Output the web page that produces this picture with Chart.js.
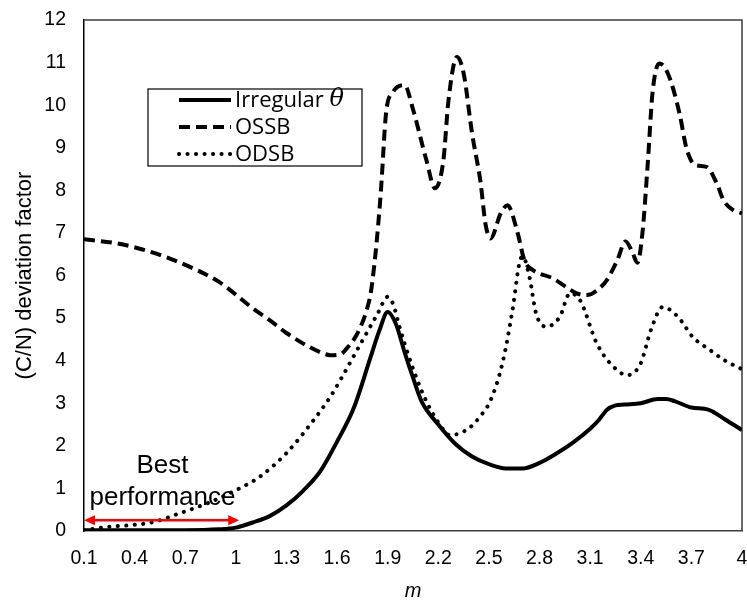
<!DOCTYPE html>
<html>
<head>
<meta charset="utf-8">
<script src="https://cdn.jsdelivr.net/npm/chart.js@4.4.1/dist/chart.umd.min.js"></script>
<style>
  html, body { margin: 0; padding: 0; background: #fff; }
  #wrap { width: 747px; height: 603px; }
</style>
</head>
<body>
<div id="wrap"><canvas id="cn-chart" width="747" height="603"></canvas></div>
<script>
// m axis ticks
const mTicks = [0.1, 0.4, 0.7, 1, 1.3, 1.6, 1.9, 2.2, 2.5, 2.8, 3.1, 3.4, 3.7, 4];

// Irregular theta
const irregularM = [0.1, 0.4, 0.7, 0.9, 1.0, 1.1, 1.2, 1.3, 1.4, 1.5, 1.6, 1.7, 1.8, 1.85, 1.9, 1.95, 2.0, 2.05, 2.1, 2.2, 2.3, 2.4, 2.5, 2.6, 2.7, 2.8, 2.9, 3.0, 3.1, 3.15, 3.2, 3.25, 3.3, 3.4, 3.5, 3.55, 3.6, 3.7, 3.8, 3.9, 4.0];
const irregularCN = [0.02, 0.02, 0.02, 0.04, 0.08, 0.2, 0.35, 0.6, 0.95, 1.4, 2.1, 2.9, 4.1, 4.7, 5.14, 4.85, 4.2, 3.6, 3.05, 2.5, 2.05, 1.75, 1.57, 1.47, 1.47, 1.6, 1.82, 2.08, 2.4, 2.6, 2.85, 2.95, 2.97, 3.0, 3.1, 3.1, 3.05, 2.9, 2.85, 2.62, 2.37];

// OSSB
const ossbM = [0.1, 0.3, 0.5, 0.7, 0.9, 1.1, 1.2, 1.3, 1.4, 1.5, 1.56, 1.62, 1.66, 1.7, 1.74, 1.78, 1.8, 1.83, 1.86, 1.89, 1.93, 2.0, 2.05, 2.13, 2.18, 2.23, 2.26, 2.31, 2.35, 2.4, 2.45, 2.48, 2.51, 2.57, 2.61, 2.67, 2.71, 2.76, 2.88, 2.95, 3.02, 3.08, 3.14, 3.2, 3.26, 3.31, 3.35, 3.38, 3.41, 3.44, 3.47, 3.51, 3.56, 3.63, 3.67, 3.72, 3.79, 3.85, 3.89, 3.95, 4.0];
const ossbCN = [6.85, 6.75, 6.55, 6.25, 5.85, 5.23, 4.95, 4.65, 4.4, 4.2, 4.13, 4.15, 4.3, 4.5, 4.8, 5.25, 5.6, 6.6, 8.0, 9.8, 10.3, 10.47, 9.9, 8.7, 8.05, 8.7, 10.1, 11.13, 10.75, 9.34, 8.2, 7.2, 6.87, 7.46, 7.65, 7.0, 6.36, 6.13, 5.93, 5.75, 5.58, 5.54, 5.65, 5.9, 6.35, 6.8, 6.55, 6.3, 7.0, 8.55, 10.3, 10.98, 10.75, 9.8, 9.0, 8.6, 8.55, 8.17, 7.77, 7.53, 7.46];

// ODSB
const odsbM = [0.1, 0.25, 0.39, 0.51, 0.67, 0.83, 0.98, 1.14, 1.3, 1.46, 1.56, 1.62, 1.74, 1.84, 1.9, 1.93, 1.97, 2.0, 2.1, 2.2, 2.27, 2.33, 2.39, 2.45, 2.51, 2.58, 2.64, 2.68, 2.7, 2.74, 2.78, 2.84, 2.92, 2.98, 3.04, 3.14, 3.24, 3.32, 3.4, 3.46, 3.53, 3.62, 3.71, 3.81, 3.9, 4.0];
const odsbCN = [0.02, 0.1, 0.14, 0.21, 0.42, 0.65, 0.92, 1.27, 1.83, 2.6, 3.15, 3.55, 4.4, 5.1, 5.5, 5.35, 4.8, 4.4, 3.3, 2.55, 2.25, 2.3, 2.44, 2.7, 3.07, 3.94, 5.19, 6.28, 6.45, 5.97, 5.1, 4.8, 5.03, 5.58, 5.42, 4.4, 3.85, 3.66, 3.94, 4.72, 5.26, 5.03, 4.55, 4.25, 4.0, 3.8];

const toPoints = (xs, ys) => xs.map((x, i) => ({ x: x, y: ys[i] }));

const tickFont = { family: '"Liberation Sans", Arial, sans-serif', size: 19.5 };

// legend box drawn inside the plot, Excel style
const boxLegend = {
  id: 'boxLegend',
  afterDraw(chart) {
    const ctx = chart.ctx;
    const left = 148, top = 89, width = 214, height = 77;
    ctx.save();
    ctx.fillStyle = '#fff';
    ctx.fillRect(left, top, width, height);
    ctx.strokeStyle = '#000';
    ctx.lineWidth = 1.2;
    ctx.strokeRect(left, top, width, height);

    chart.data.datasets.forEach((ds, i) => {
      const y = 100 + i * 27;
      ctx.beginPath();
      ctx.strokeStyle = ds.borderColor;
      ctx.lineWidth = ds.borderWidth;
      ctx.lineCap = ds.borderCapStyle || 'butt';
      ctx.setLineDash(ds.borderDash || []);
      ctx.moveTo(179, y);
      ctx.lineTo(231, y);
      ctx.stroke();
      ctx.setLineDash([]);

      ctx.fillStyle = '#000';
      ctx.textBaseline = 'middle';
      ctx.textAlign = 'left';
      let label = ds.label;
      let symbol = '';
      if (label.endsWith('θ')) {
        symbol = 'θ';
        label = label.slice(0, -1);
      }
      ctx.font = '22px "Open Sans", sans-serif';
      ctx.fillText(label, 235, y + 1);
      if (symbol) {
        const w = ctx.measureText(label).width;
        ctx.font = 'italic 24px "DejaVu Serif", serif';
        ctx.fillText(symbol, 235 + w, y);
      }
    });
    ctx.restore();
  }
};

// red double arrow and its caption
const bestRange = {
  id: 'bestRange',
  afterDatasetsDraw(chart) {
    const { ctx, scales: { x, y } } = chart;
    const x0 = x.getPixelForValue(0.1);
    const x1 = x.getPixelForValue(1.02);
    const yy = y.getPixelForValue(0.25);
    const head = 11, half = 5;
    ctx.save();
    ctx.strokeStyle = '#ff0000';
    ctx.fillStyle = '#ff0000';
    ctx.lineWidth = 2.5;
    ctx.beginPath();
    ctx.moveTo(x0 + head - 2, yy);
    ctx.lineTo(x1 - head + 2, yy);
    ctx.stroke();
    ctx.beginPath();
    ctx.moveTo(x0, yy);
    ctx.lineTo(x0 + head, yy - half);
    ctx.lineTo(x0 + head, yy + half);
    ctx.closePath();
    ctx.fill();
    ctx.beginPath();
    ctx.moveTo(x1, yy);
    ctx.lineTo(x1 - head, yy - half);
    ctx.lineTo(x1 - head, yy + half);
    ctx.closePath();
    ctx.fill();

    ctx.fillStyle = '#000';
    ctx.font = '26px "Liberation Sans", Arial, sans-serif';
    ctx.textAlign = 'center';
    ctx.textBaseline = 'alphabetic';
    const cx = x.getPixelForValue(0.565);
    ctx.fillText('Best', cx, y.getPixelForValue(1.36));
    ctx.fillText('performance', cx, y.getPixelForValue(0.61));
    ctx.restore();
  }
};

// closes the plot frame on the top and right
const frame = {
  id: 'frame',
  beforeDatasetsDraw(chart) {
    const { ctx, chartArea: a } = chart;
    ctx.save();
    ctx.strokeStyle = '#3c3c3c';
    ctx.lineWidth = 1.5;
    ctx.beginPath();
    ctx.moveTo(a.left, a.top);
    ctx.lineTo(a.right, a.top);
    ctx.lineTo(a.right, a.bottom);
    ctx.stroke();
    ctx.restore();
  }
};

new Chart(document.getElementById('cn-chart'), {
  type: 'line',
  data: {
    datasets: [
      {
        label: 'Irregular θ',
        data: toPoints(irregularM, irregularCN),
        borderColor: '#000',
        borderWidth: 4,
        pointRadius: 0,
        cubicInterpolationMode: 'monotone'
      },
      {
        label: 'OSSB',
        data: toPoints(ossbM, ossbCN),
        borderColor: '#000',
        borderWidth: 4,
        borderDash: [11, 6],
        pointRadius: 0,
        cubicInterpolationMode: 'monotone'
      },
      {
        label: 'ODSB',
        data: toPoints(odsbM, odsbCN),
        borderColor: '#000',
        borderWidth: 4,
        borderDash: [0.1, 8.4],
        borderCapStyle: 'round',
        pointRadius: 0,
        cubicInterpolationMode: 'monotone'
      }
    ]
  },
  options: {
    responsive: false,
    animation: false,
    layout: { padding: { top: 20, right: 5, left: 0, bottom: 0 } },
    plugins: {
      legend: { display: false },
      tooltip: { enabled: false }
    },
    scales: {
      x: {
        type: 'linear',
        min: 0.1,
        max: 4,
        afterBuildTicks: (scale) => { scale.ticks = mTicks.map(v => ({ value: v })); },
        afterFit: (scale) => {
          scale.height = 72;
          scale.paddingLeft = 0;
          scale.paddingRight = 0;
        },
        grid: { display: false, drawTicks: false },
        border: { display: true, color: '#3c3c3c', width: 1.5 },
        ticks: {
          color: '#000',
          font: tickFont,
          padding: 16,
          maxRotation: 0,
          autoSkip: false,
          callback: (v) => String(v)
        },
        title: {
          display: true,
          text: 'm',
          color: '#000',
          font: { family: '"Liberation Sans", Arial, sans-serif', size: 20, style: 'italic' },
          padding: { top: 0, bottom: 0 }
        }
      },
      y: {
        min: 0,
        max: 12,
        afterFit: (scale) => {
          scale.width = 84;
          scale.paddingTop = 0;
          scale.paddingBottom = 0;
        },
        grid: { display: false, drawTicks: false },
        border: { display: true, color: '#000', width: 1.5 },
        ticks: {
          stepSize: 1,
          color: '#000',
          font: tickFont,
          padding: 18
        },
        title: {
          display: true,
          text: '(C/N) deviation factor',
          color: '#000',
          font: { family: '"Liberation Sans", Arial, sans-serif', size: 22 },
          padding: { top: 12, bottom: 0 }
        }
      }
    }
  },
  plugins: [frame, bestRange, boxLegend]
});
</script>
</body>
</html>
